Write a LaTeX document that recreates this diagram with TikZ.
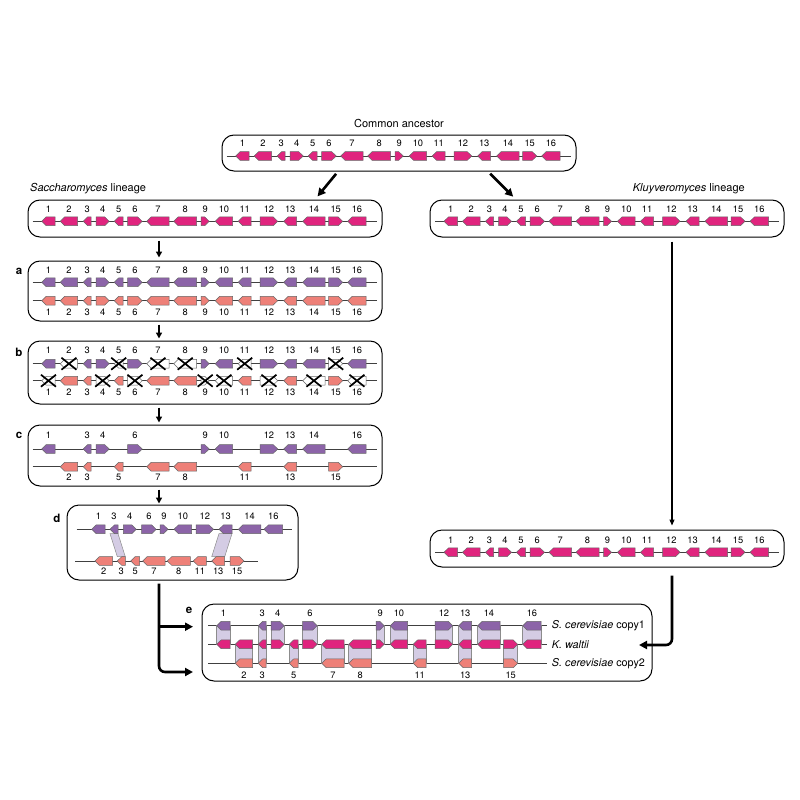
\documentclass[tikz,border=0pt]{standalone}
\usepackage{fontspec}
\setmainfont{TeX Gyre Heros}
\usetikzlibrary{arrows.meta}

\definecolor{magen}{RGB}{224,36,126}
\definecolor{purp}{RGB}{140,100,168}
\definecolor{salm}{RGB}{238,128,120}
\definecolor{lav}{RGB}{212,204,228}

% number/start/end/direction/kept on top/kept below
\def\genelist{1/0/13.5/-1/1/0, 2/18.5/36/-1/0/1, 3/41.5/49.5/-1/1/1, 4/54.5/67.5/1/1/0,
  5/72.5/81.5/-1/0/1, 6/86/100.5/1/1/0, 7/105/127.5/-1/0/1, 8/132/155/-1/0/1,
  9/159.5/167.5/1/1/0, 10/173.5/191/-1/1/0, 11/196.5/209.5/-1/0/1, 12/218.5/236/1/1/0,
  13/242/255/-1/1/1, 14/261/283.5/-1/1/0, 15/287/301/1/0/1, 16/306/324.5/-1/1/0}

% left, right, y, direction, colour
\newcommand{\gene}[5]{%
  \ifnum#4>0
    \draw[gene,fill=#5] ({#1},{#3-4.4}) -- ({#2-4.5},{#3-4.4}) -- ({#2},{#3}) -- ({#2-4.5},{#3+4.4}) -- ({#1},{#3+4.4}) -- cycle;
  \else
    \draw[gene,fill=#5] ({#2},{#3-4.4}) -- ({#1+4.5},{#3-4.4}) -- ({#1},{#3}) -- ({#1+4.5},{#3+4.4}) -- ({#2},{#3+4.4}) -- cycle;
  \fi}

% lost copy: white gene with a cross
\newcommand{\lost}[4]{%
  \gene{#1}{#2}{#3}{#4}{white}
  \pgfmathsetmacro\xc{(#1+#2)/2}
  \draw[cross] ({\xc-7.5},{#3-6}) -- ({\xc+7.5},{#3+6}) ({\xc-7.5},{#3+6}) -- ({\xc+7.5},{#3-6});}

% x of gene 1, y of line, y of numbers, name prefix, colour
\newcommand{\track}[5]{%
  \draw[chrom] ({#1-9},#2) -- ({#1+335},#2);
  \foreach \gn/\ga/\gb/\gd/\gt/\gu in \genelist {
    \gene{#1+\ga}{#1+\gb}{#2}{\gd}{#5}
    \node[num] (#4\gn) at ({#1+(\ga+\gb)/2},#3) {\gn};
  }}

\begin{document}
\begin{tikzpicture}[x=1pt,y=-1pt]
\tikzstyle{box} = [draw, rounded corners=12pt, line width=1pt, inner sep=0pt]
\tikzstyle{gene} = [draw=black!60, line width=0.5pt]
\tikzstyle{chrom} = [draw=black!75, line width=0.8pt]
\tikzstyle{link} = [draw=black!45, fill=lav, line width=0.5pt]
\tikzstyle{cross} = [line width=1.7pt]
\tikzstyle{num} = [font=\fontsize{9.3}{10}\selectfont, inner sep=0pt]
\tikzstyle{caption} = [font=\fontsize{11}{13}\selectfont, inner sep=0pt]
\tikzstyle{rowname} = [font=\fontsize{10.8}{13}\selectfont, inner sep=0pt, anchor=west]
\tikzstyle{panel} = [font=\fontsize{11.5}{13}\selectfont\bfseries, inner sep=0pt]
\tikzstyle{bigarrow} = [line width=2.6pt, -{Triangle[length=8pt,width=8pt]}]
\tikzstyle{smallarrow} = [line width=1.6pt, -{Triangle[length=6pt,width=6pt]}]
\tikzstyle{thinarrow} = [line width=1.2pt, -{Triangle[length=6pt,width=5pt]}]

\useasboundingbox (0,0) rectangle (800,800);

\node[caption] (anctitle) at (399,123) {Common ancestor};
\node[caption, anchor=west] (sacctitle) at (30,189) {\textit{Saccharomyces} lineage};
\node[caption, anchor=east] (kluytitle) at (745,189) {\textit{Kluyveromyces} lineage};

\node[box, minimum width=354pt, minimum height=36pt] (anc) at (399,153) {};
\node[box, minimum width=354pt, minimum height=37pt] (sacc) at (205,218.5) {};
\node[box, minimum width=354pt, minimum height=37pt] (kluy) at (607,218.5) {};
\node[box, minimum width=354pt, minimum height=60pt] (boxa) at (205,291) {};
\node[box, minimum width=354pt, minimum height=63pt] (boxb) at (205,372.5) {};
\node[box, minimum width=354pt, minimum height=61pt] (boxc) at (205,455.5) {};
\node[box, minimum width=231pt, minimum height=75pt] (boxd) at (182.5,542.5) {};
\node[box, minimum width=354pt, minimum height=37pt] (kluyb) at (607,548.5) {};
\node[box, minimum width=450pt, minimum height=77pt] (boxe) at (427,642.5) {};

\node[panel] (la) at (19,271) {a};
\node[panel] (lb) at (19,352) {b};
\node[panel] (lc) at (19,435) {c};
\node[panel] (ld) at (57,518) {d};
\node[panel] (le) at (189,610) {e};

% whole tracks
\track{235.7}{156}{143.5}{anc}{magen}
\track{41.7}{221.3}{209.3}{sac}{magen}
\track{444}{221.3}{209.3}{klu}{magen}
\track{41.7}{282.3}{270}{at}{purp}
\track{41.7}{300.7}{312.3}{ab}{salm}
\track{444}{552.3}{540}{kwa}{magen}

% b: losses
\draw[chrom] (32.7,363.7) -- (376.7,363.7);
\draw[chrom] (32.7,380.7) -- (376.7,380.7);
\foreach \gn/\ga/\gb/\gd/\gt/\gu in \genelist {
  \ifnum\gt=1 \gene{41.7+\ga}{41.7+\gb}{363.7}{\gd}{purp}
  \else \lost{41.7+\ga}{41.7+\gb}{363.7}{\gd} \fi
  \ifnum\gu=1 \gene{41.7+\ga}{41.7+\gb}{380.7}{\gd}{salm}
  \else \lost{41.7+\ga}{41.7+\gb}{380.7}{\gd} \fi
  \node[num] (bt\gn) at ({41.7+(\ga+\gb)/2},350) {\gn};
  \node[num] (bb\gn) at ({41.7+(\ga+\gb)/2},392.3) {\gn};
}

% c: what is left
\draw[chrom] (32.7,449) -- (376.7,449);
\draw[chrom] (32.7,466.7) -- (376.7,466.7);
\foreach \gn/\ga/\gb/\gd/\gt/\gu in \genelist {
  \ifnum\gt=1 \gene{41.7+\ga}{41.7+\gb}{449}{\gd}{purp}
    \node[num] (ct\gn) at ({41.7+(\ga+\gb)/2},435) {\gn}; \fi
  \ifnum\gu=1 \gene{41.7+\ga}{41.7+\gb}{466.7}{\gd}{salm}
    \node[num] (cb\gn) at ({41.7+(\ga+\gb)/2},477.3) {\gn}; \fi
}

% d: packed
\draw[chrom] (76.7,529.3) -- (291.7,529.3);
\draw[chrom] (75,561) -- (258.3,561);
\draw[link] (110,533.6) -- (118,533.6) -- (125.3,556.7) -- (117.3,556.7) -- cycle;
\draw[link] (219,533.6) -- (232,533.6) -- (224.7,556.7) -- (211.7,556.7) -- cycle;
\foreach \gn/\ga/\gb/\gd in {1/91.7/105.2/-1, 3/110/118/-1, 4/123.3/136.3/1, 6/141.7/156.2/1,
  9/160/168/1, 10/174/191.5/-1, 12/196/213.5/1, 13/219/232/-1, 14/238.3/260.8/-1, 16/264/282.5/-1} {
  \gene{\ga}{\gb}{529.3}{\gd}{purp}
  \node[num] (dt\gn) at ({(\ga+\gb)/2},516) {\gn};
}
\foreach \gn/\ga/\gb/\gd in {2/95/112.5/-1, 3/117.3/125.3/-1, 5/130.7/139.7/-1, 7/142.7/165.2/-1,
  8/167.3/190.3/-1, 11/193.3/206.3/-1, 13/211.7/224.7/-1, 15/230/244/1} {
  \gene{\ga}{\gb}{561}{\gd}{salm}
  \node[num] (db\gn) at ({(\ga+\gb)/2},571) {\gn};
}

% e: the two copies against K. waltii
\draw[chrom] (208.3,625.7) -- (547,625.7);
\draw[chrom] (208.3,644.3) -- (547,644.3);
\draw[chrom] (208.3,663.3) -- (547,663.3);
\foreach \gn/\ga/\gb/\gd/\gt/\gu in \genelist {
  \ifnum\gt=1 \draw[link] ({216.7+\ga},625.7) rectangle ({216.7+\gb},644.3); \fi
  \ifnum\gu=1 \draw[link] ({216.7+\ga},644.3) rectangle ({216.7+\gb},663.3); \fi
  \gene{216.7+\ga}{216.7+\gb}{644.3}{\gd}{magen}
  \ifnum\gt=1 \gene{216.7+\ga}{216.7+\gb}{625.7}{\gd}{purp}
    \node[num] (et\gn) at ({216.7+(\ga+\gb)/2},613.3) {\gn}; \fi
  \ifnum\gu=1 \gene{216.7+\ga}{216.7+\gb}{663.3}{\gd}{salm}
    \node[num] (eb\gn) at ({216.7+(\ga+\gb)/2},675) {\gn}; \fi
}
\node[rowname] (sc1) at (551.7,625.7) {\textit{S. cerevisiae} copy1};
\node[rowname] (kw) at (551.7,644.3) {\textit{K. waltii}};
\node[rowname] (sc2) at (551.7,663.3) {\textit{S. cerevisiae} copy2};

% arrows
\coordinate (sx) at (159,0);
\coordinate (kx) at (672,0);
\coordinate (ein1) at (193,626.7);
\coordinate (ein2) at (193,672);
\coordinate (kin) at (639,645);

\draw[bigarrow, shorten <=3pt, shorten >=4pt] ([xshift=-61pt]anc.south) -- ([xshift=110pt]sacc.north);
\draw[bigarrow, shorten <=3pt, shorten >=4pt] ([xshift=89pt]anc.south) -- ([xshift=-91pt]kluy.north);
\draw[smallarrow, shorten <=3pt, shorten >=3pt] (sx |- sacc.south) -- (sx |- boxa.north);
\draw[smallarrow, shorten <=3pt, shorten >=2pt] (sx |- boxa.south) -- (sx |- boxb.north);
\draw[smallarrow, shorten <=3pt, shorten >=2pt] (sx |- boxb.south) -- (sx |- boxc.north);
\draw[smallarrow, shorten <=3pt, shorten >=1pt] (sx |- boxc.south) -- (sx |- boxd.north);
\draw[bigarrow, rounded corners=6pt, shorten <=3pt] (sx |- boxd.south) -- (sx |- ein2) -- (ein2);
\draw[bigarrow] (sx |- ein1) -- (ein1);
\draw[thinarrow, shorten <=4pt, shorten >=4pt] (kx |- kluy.south) -- (kx |- kluyb.north);
\draw[bigarrow, rounded corners=6pt, shorten <=8pt] (kx |- kluyb.south) -- (kx |- kin) -- (kin);
\end{tikzpicture}
\end{document}
